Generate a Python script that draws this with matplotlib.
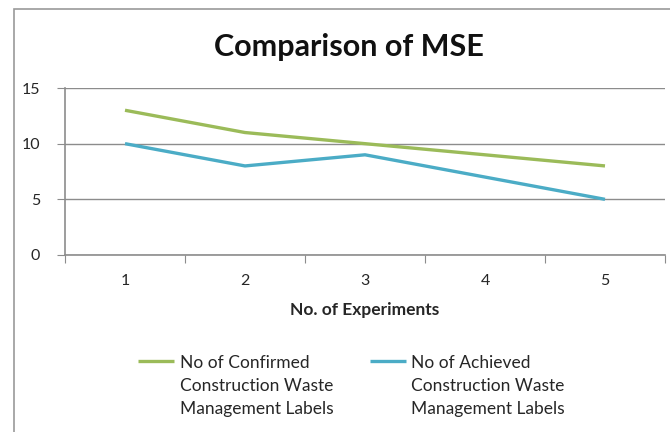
import numpy as np
import matplotlib
matplotlib.use("Agg")
import matplotlib.pyplot as plt
from matplotlib.legend_handler import HandlerLine2D
from matplotlib.patches import Rectangle

# data
experiments = ["1", "2", "3", "4", "5"]
confirmed = [13, 11, 10, 9, 8]
achieved = [10, 8, 9, 7, 5]
series_names = ["No of Confirmed\nConstruction Waste\nManagement Labels",
                "No of Achieved\nConstruction Waste\nManagement Labels"]
series_colors = ["#9bbb59", "#4bacc6"]

plt.rcParams['font.family'] = ['Lato', 'DejaVu Sans']
txt = "#262626"
grid = "#8c8c8c"
leg_fs = 12.5


class TopLineHandler(HandlerLine2D):
    """legend line sitting on the first text row, like Excel does"""
    def create_artists(self, legend, orig_handle, xdescent, ydescent,
                       width, height, fontsize, trans):
        arts = super().create_artists(legend, orig_handle, xdescent, ydescent,
                                      width, height, fontsize, trans)
        y = (height - ydescent) / 2 + 1.45 * fontsize
        for a in arts:
            a.set_ydata(np.full(len(a.get_xdata()), y))
        return arts


W, H = 670, 432
fig = plt.figure(figsize=(W / 100, H / 100), dpi=100)
fig.patches.append(Rectangle((14 / W, -0.1), 1.2, (H - 9) / H + 0.1,
                             transform=fig.transFigure, fill=False,
                             edgecolor="#9a9a9a", linewidth=1.2))

ax = fig.add_axes([65 / W, (H - 255) / H, 600 / W, 167 / H])
x = np.arange(len(experiments)) + 0.5
lines = []
for vals, c in zip([confirmed, achieved], series_colors):
    ln, = ax.plot(x, vals, color=c, linewidth=2.4, solid_capstyle="butt")
    lines.append(ln)

ax.set_xlim(0, len(experiments))
ax.set_ylim(0, 15)
ax.set_yticks([0, 5, 10, 15])
ax.yaxis.grid(True, color=grid, linewidth=1)
ax.set_axisbelow(True)
ax.set_xticks(np.arange(len(experiments) + 1))
ax.set_xticklabels([])
ax.set_xticks(x, minor=True)
ax.set_xticklabels(experiments, minor=True)
ax.tick_params(axis="x", which="major", length=6, color=grid, direction="out")
ax.tick_params(axis="x", which="minor", length=0, pad=14, labelsize=11.5, labelcolor=txt)
ax.tick_params(axis="y", length=6, color=grid, pad=12, labelsize=11.5, labelcolor=txt)
for s in ["top", "right"]:
    ax.spines[s].set_visible(False)
for s in ["left", "bottom"]:
    ax.spines[s].set_color(grid)
    ax.spines[s].set_linewidth(1.2)

ax.set_xlabel("No. of Experiments", fontsize=12.5, fontweight="bold", color=txt, labelpad=10)
fig.text(349 / W, 1 - 47 / H, "Comparison of MSE", ha="center", va="center",
         fontsize=22, fontweight="bold", color="#111111")

leg = fig.legend(lines, series_names, loc="upper left", bbox_to_anchor=(138 / W, 1 - 355 / H),
                 ncol=2, frameon=False, fontsize=leg_fs, labelcolor=txt,
                 borderpad=0, borderaxespad=0,
                 handlelength=2.1, handletextpad=0.3, columnspacing=2.1,
                 handler_map={ln: TopLineHandler() for ln in lines})
for t in leg.get_texts():
    t.set_linespacing(1.53)

fig.savefig("out.png", dpi=100, facecolor="white")
